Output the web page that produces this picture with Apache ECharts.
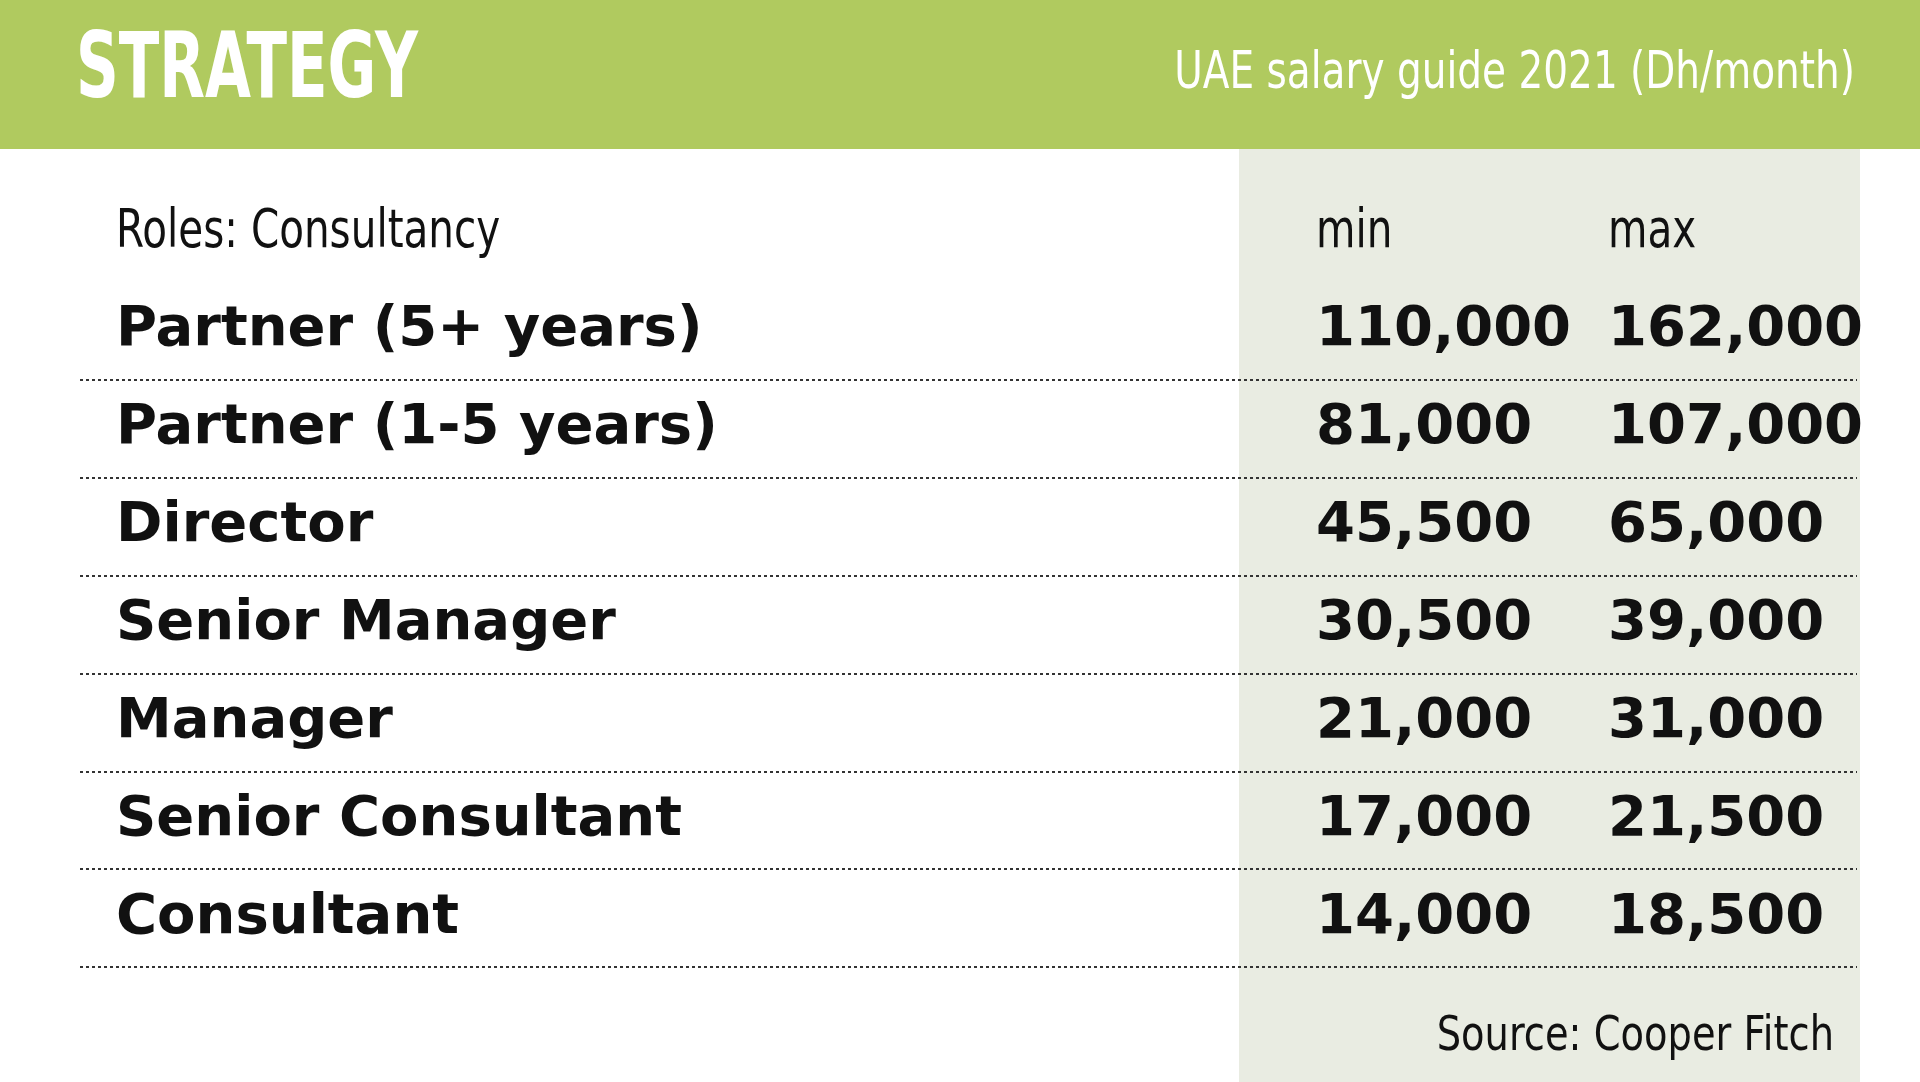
<!DOCTYPE html>
<html>
<head>
<meta charset="utf-8">
<script src="https://cdn.jsdelivr.net/npm/echarts@6/dist/echarts.min.js"></script>
<style>
  html, body { margin: 0; padding: 0; background: #fff; }
  #chart { width: 1920px; height: 1082px; }
</style>
</head>
<body>
<div id="chart"></div>
<script>
// Data
var roles = ['Partner (5+ years)', 'Partner (1-5 years)', 'Director', 'Senior Manager',
    'Manager', 'Senior Consultant', 'Consultant'];
var minVals = [110000, 81000, 45500, 30500, 21000, 17000, 14000];
var maxVals = [162000, 107000, 65000, 39000, 31000, 21500, 18500];

var FONT = '"DejaVu Sans", sans-serif';
var INK = '#111111';
var colRole = 116, colMin = 1316, colMax = 1608;

function fmt(v) { return v.toLocaleString('en-US'); }

function column(x, labels, name) {
    return {
        name: name,
        type: 'scatter',
        symbolSize: 0,
        silent: true,
        itemStyle: { opacity: 1 },
        data: labels.map(function (t, i) { return { value: [x, roles[i]], txt: t }; }),
        label: {
            show: true,
            position: 'inside',
            align: 'left',
            verticalAlign: 'middle',
            fontFamily: FONT,
            fontWeight: 'bold',
            fontSize: 56,
            color: INK,
            textBorderWidth: 0,
            formatter: function (p) { return p.data.txt; }
        }
    };
}

function txt(x, y, s, size, weight, sx, align, fill) {
    return {
        type: 'text', z: 11, x: x, y: y, scaleX: sx, originX: 0, originY: 0,
        style: { text: s, fill: fill, font: weight + ' ' + size + 'px ' + FONT, textAlign: align, textVerticalAlign: 'middle' }
    };
}

var myChart = echarts.init(document.getElementById('chart'));
var option = {
    animation: false,
    grid: { left: 80, right: 63, top: 282, bottom: 115 },
    xAxis: { type: 'value', min: 80, max: 1857, show: false },
    yAxis: {
        type: 'category',
        data: roles,
        inverse: true,
        axisLine: { show: false },
        axisTick: { show: false },
        axisLabel: { show: false },
        splitLine: {
            show: true,
            interval: function (i) { return i > 0 && i < roles.length; },
            lineStyle: { color: '#333', type: [3, 3], width: 2 }
        }
    },
    graphic: [
        { type: 'rect', z: -10, shape: { x: 1239, y: 149, width: 621, height: 933 }, style: { fill: '#e9ece2' } },
        { type: 'rect', z: 10, shape: { x: 0, y: 0, width: 1920, height: 149 }, style: { fill: '#b0ca5f' } },
        txt(76, 74, 'STRATEGY', 90, 'bold', 0.66, 'left', '#fff'),
        txt(1855, 74, 'UAE salary guide 2021 (Dh/month)', 52, 'normal', 0.75, 'right', '#fff'),
        txt(116, 233, 'Roles: Consultancy', 54, 'normal', 0.75, 'left', INK),
        txt(colMin, 233, 'min', 54, 'normal', 0.75, 'left', INK),
        txt(colMax, 233, 'max', 54, 'normal', 0.75, 'left', INK),
        txt(1834, 1038, 'Source: Cooper Fitch', 48, 'normal', 0.8, 'right', INK)
    ],
    series: [
        column(colRole, roles, 'role'),
        column(colMin, minVals.map(fmt), 'min'),
        column(colMax, maxVals.map(fmt), 'max')
    ]
};
myChart.setOption(option, true);
</script>
</body>
</html>
